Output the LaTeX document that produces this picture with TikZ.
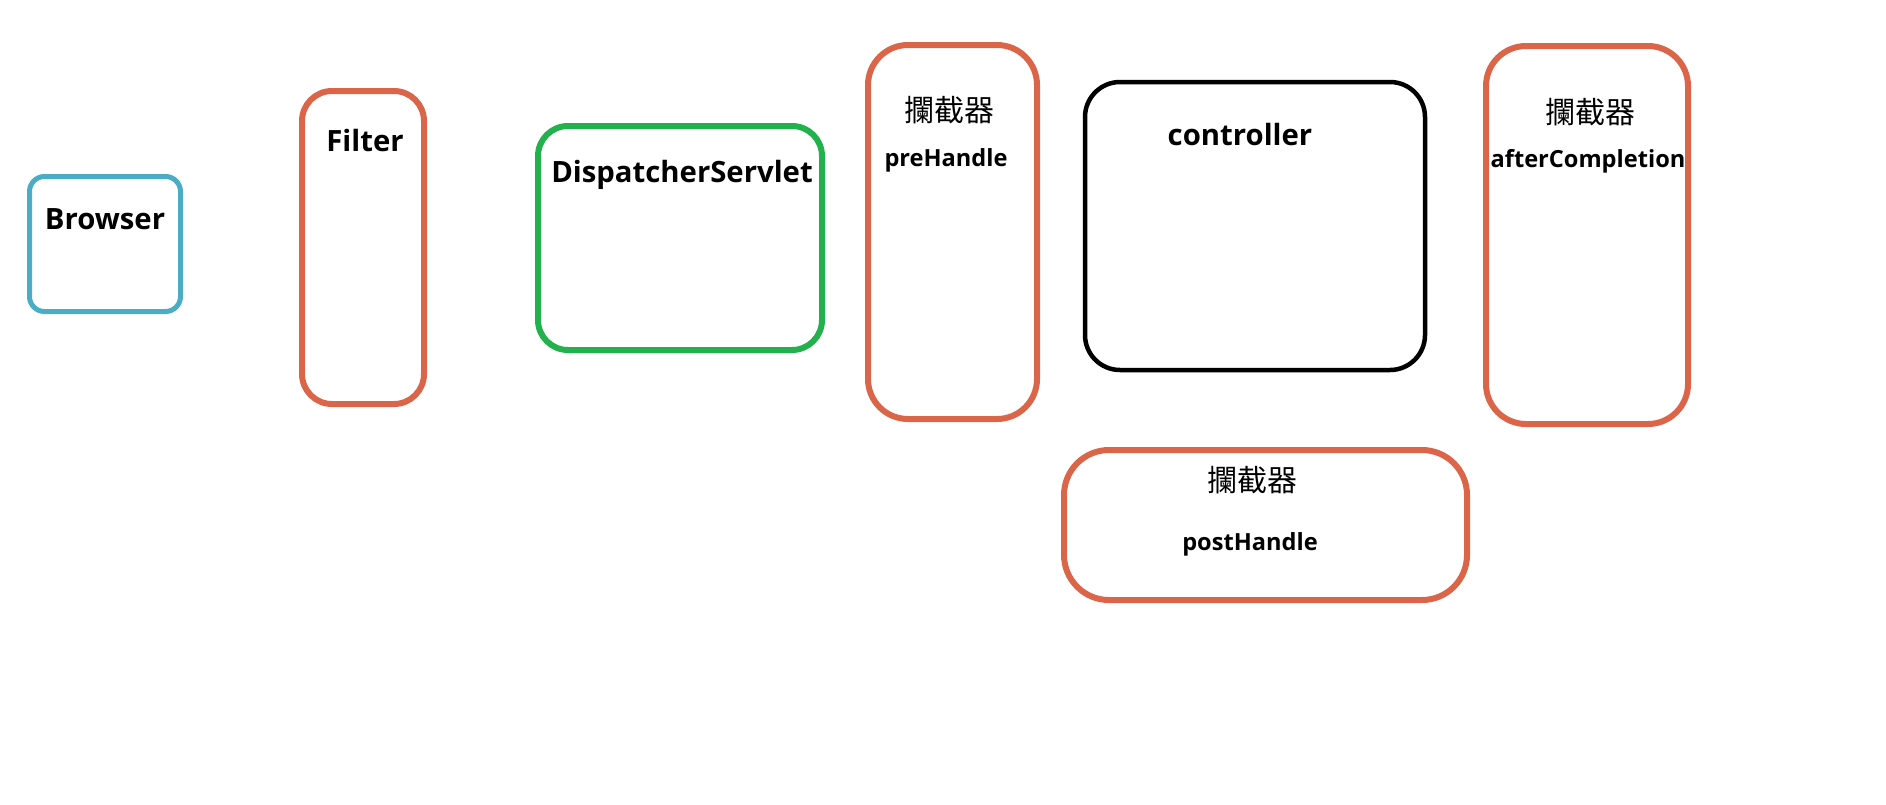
\documentclass[tikz,border=0pt]{standalone}
\usepackage{fontspec}
\setmainfont{Open Sans}
\newfontfamily\cjk{Noto Sans CJK TC}
\definecolor{boxblue}{RGB}{75,172,198}
\definecolor{boxorange}{RGB}{218,101,72}
\definecolor{boxgreen}{RGB}{34,177,76}
\tikzset{
  box/.style={draw, fill=white, rectangle, inner sep=0pt},
  big/.style={font=\fontsize{29.3}{33}\selectfont\bfseries, inner sep=0pt, anchor=center},
  small/.style={font=\fontsize{23.6}{27}\selectfont\bfseries, inner sep=0pt, anchor=center},
  cjklbl/.style={font=\fontsize{30}{34}\selectfont\cjk, inner sep=0pt, anchor=center},
}
\begin{document}
\begin{tikzpicture}[x=1pt,y=-1pt]
\useasboundingbox (0,0) rectangle (1886,804);
% boxes
\node[box, draw=boxblue, line width=5pt, rounded corners=15pt, minimum width=151pt, minimum height=135pt] (browser) at (105,244) {};
\node[box, draw=boxorange, line width=6pt, rounded corners=30pt, minimum width=122pt, minimum height=313pt] (filter) at (363,247.5) {};
\node[box, draw=boxgreen, line width=6pt, rounded corners=30pt, minimum width=284pt, minimum height=224pt] (dispatcher) at (680,238) {};
\node[box, draw=boxorange, line width=6pt, rounded corners=40pt, minimum width=169pt, minimum height=374pt] (pre) at (952.5,232) {};
\node[box, draw=black, line width=4.5pt, rounded corners=35pt, minimum width=340pt, minimum height=288pt] (controller) at (1255,226) {};
\node[box, draw=boxorange, line width=6pt, rounded corners=45pt, minimum width=403pt, minimum height=150pt] (post) at (1265.5,525) {};
\node[box, draw=boxorange, line width=6pt, rounded corners=40pt, minimum width=202pt, minimum height=378pt] (after) at (1587,235) {};
% labels
\node[big] (browserlbl) at (105,219) {Browser};
\node[big] (filterlbl) at (365,141) {Filter};
\node[big] (dispatcherlbl) at (682,175) {DispatcherServlet};
\node[cjklbl] (precjk) at (949,110) {攔截器};
\node[small] (prelbl) at (946,160) {preHandle};
\node[big] (controllerlbl) at (1240,135) {controller};
\node[cjklbl] (postcjk) at (1252,480) {攔截器};
\node[small] (postlbl) at (1250,544) {postHandle};
\node[cjklbl] (aftercjk) at (1590,112) {攔截器};
\node[small] (afterlbl) at (1588,161) {afterCompletion};
\end{tikzpicture}
\end{document}
